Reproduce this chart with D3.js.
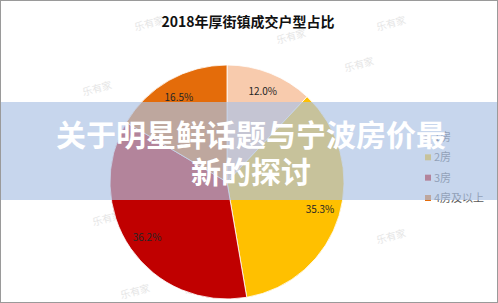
<!DOCTYPE html>
<html>
<head>
<meta charset="utf-8">
<script src="https://cdn.jsdelivr.net/npm/d3@7"></script>
<style>
  body { margin: 0; background: #fff; }
  svg { display: block; font-family: "Noto Sans CJK SC", "Noto Sans", sans-serif; }
</style>
</head>
<body>
<div id="chart"></div>
<script>
// data
const categories = ["1房", "2房", "3房", "4房及以上"];
const shares = [12.0, 35.3, 36.2, 16.5];
const colors = ["#f8cbad", "#ffc000", "#c00000", "#e46c0a"];
const title = "2018年厚街镇成交户型占比";
const bannerLines = ["关于明星鲜话题与宁波房价最", "新的探讨"];

const width = 498, height = 303;
const cx = 227, cy = 182, radius = 117;

const svg = d3.select("#chart").append("svg")
    .attr("width", width)
    .attr("height", height);

svg.append("rect")
    .attr("x", 0.5).attr("y", 0.5)
    .attr("width", width - 1).attr("height", height - 1)
    .attr("fill", "#fff")
    .attr("stroke", "#9a9a9a");

// watermarks
const marks = [[150, 27], [392, 27], [98, 92], [292, 40], [108, 222], [136, 295], [200, 290], [264, 286], [392, 240], [360, 68]];
svg.append("g").selectAll("text")
    .data(marks)
    .join("text")
    .attr("transform", d => `translate(${d[0]},${d[1]}) rotate(-15)`)
    .attr("text-anchor", "middle")
    .attr("font-size", 10)
    .attr("fill", "#e6e6e6")
    .text("乐有家");

svg.append("text")
    .attr("x", 248).attr("y", 27)
    .attr("text-anchor", "middle")
    .attr("font-size", 14)
    .attr("font-weight", "bold")
    .attr("fill", "#111")
    .text(title);

// pie
const pie = d3.pie().sort(null).value(d => d)(shares);
const arc = d3.arc().innerRadius(0).outerRadius(radius);
const labelArc = d3.arc().innerRadius(radius * 0.83).outerRadius(radius * 0.83);

const g = svg.append("g").attr("transform", `translate(${cx},${cy})`);

g.selectAll("path")
    .data(pie)
    .join("path")
    .attr("d", arc)
    .attr("fill", (d, i) => colors[i])
    .attr("stroke", "#fff")
    .attr("stroke-width", 0.8);

g.selectAll("text.pct")
    .data(pie)
    .join("text")
    .attr("class", "pct")
    .attr("transform", d => `translate(${labelArc.centroid(d)})`)
    .attr("text-anchor", "middle")
    .attr("dy", "0.35em")
    .attr("font-size", 10)
    .attr("fill", "#262626")
    .text(d => d.data.toFixed(1) + "%");

// legend
const legendY = d3.scalePoint().domain(categories).range([137, 198]);
const legend = svg.append("g").selectAll("g")
    .data(categories)
    .join("g")
    .attr("transform", d => `translate(425,${legendY(d)})`);

legend.append("rect")
    .attr("x", 0).attr("y", -3)
    .attr("width", 6).attr("height", 6)
    .attr("fill", (d, i) => colors[i]);

legend.append("text")
    .attr("x", 9)
    .attr("dy", "0.36em")
    .attr("font-size", 11)
    .attr("fill", "#595959")
    .text(d => d);

// banner overlay
svg.append("rect")
    .attr("x", 1).attr("y", 102)
    .attr("width", width - 2).attr("height", 98)
    .attr("fill", "rgb(172,194,228)")
    .attr("fill-opacity", 0.68);

svg.append("g").selectAll("text")
    .data(bannerLines)
    .join("text")
    .attr("x", 251)
    .attr("y", (d, i) => 146 + i * 37)
    .attr("text-anchor", "middle")
    .attr("font-size", 30)
    .attr("font-weight", "bold")
    .attr("fill", "#fff")
    .text(d => d);
</script>
</body>
</html>
